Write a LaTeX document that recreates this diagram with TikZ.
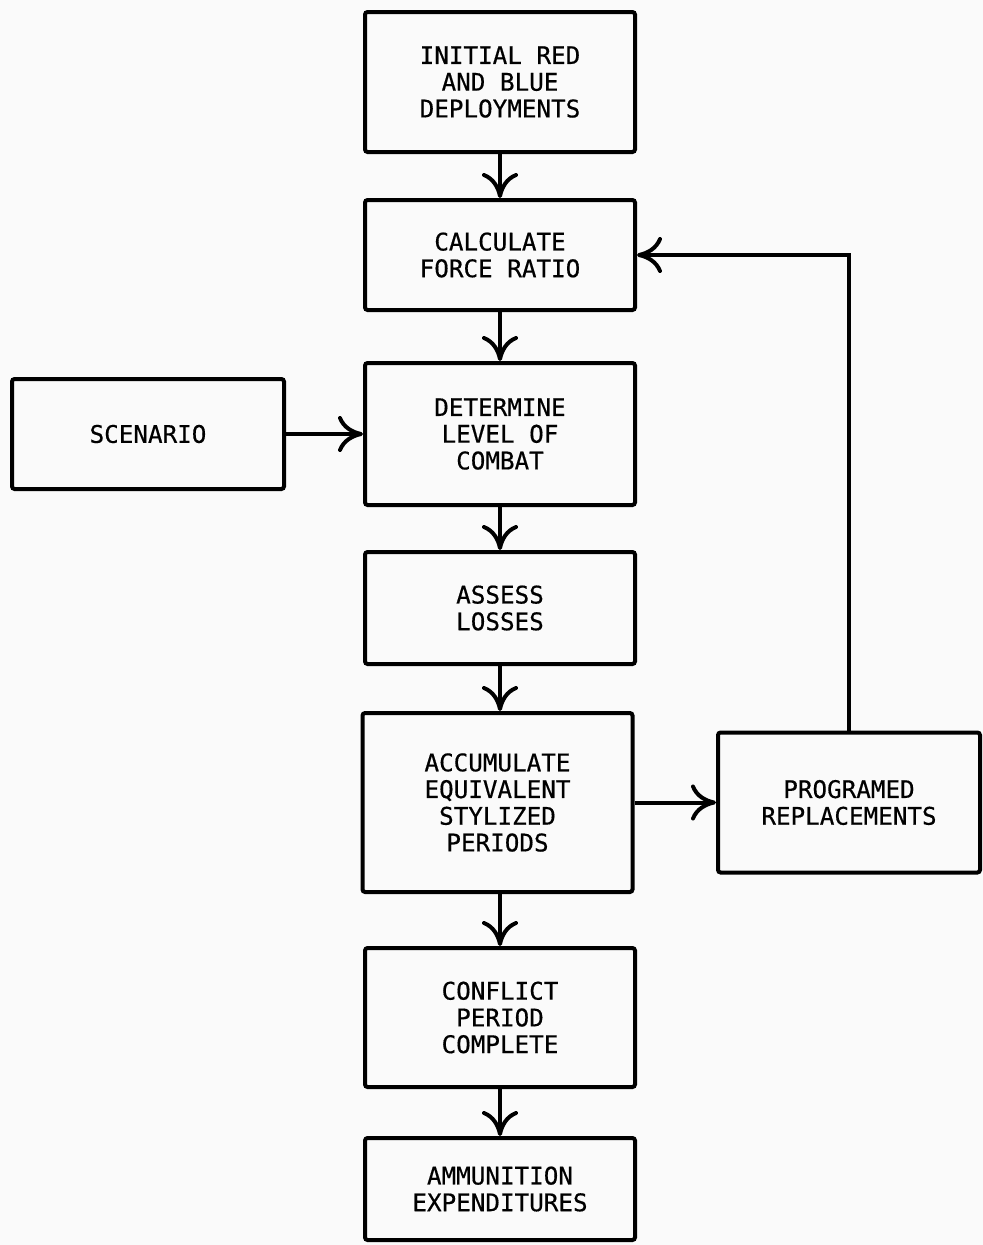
\documentclass[tikz,border=0pt]{standalone}
\usepackage{fontspec}
\newfontfamily\boxfont[FakeBold=0.5]{DejaVu Sans Mono}
\usetikzlibrary{arrows.meta}

\begin{document}
\begin{tikzpicture}[
        box/.style={draw, line width=0.08cm, rounded corners=1.5pt, align=center,
            minimum width=5.4cm, inner sep=0pt,
            font=\boxfont\fontsize{13.8}{15.2}\selectfont},
        flow/.style={line width=0.08cm,
            -{Computer Modern Rightarrow[length=0.5cm, width=0.72cm, line width=0.08cm]}}
    ]
    \fill[black!2] (0,0) rectangle (19.66,-24.9);
    \useasboundingbox (0,0) rectangle (19.66,-24.9);
    % main column
    \node[box, minimum height=2.8cm] (init) at (10,-1.64) {INITIAL RED\\AND BLUE\\DEPLOYMENTS};
    \node[box, minimum height=2.2cm] (calc) at (10,-5.1) {CALCULATE\\FORCE RATIO};
    \node[box, minimum height=2.84cm] (determ) at (10,-8.68) {DETERMINE\\LEVEL OF\\COMBAT};
    \node[box, minimum height=2.24cm] (assess) at (10,-12.16) {ASSESS\\LOSSES};
    \node[box, minimum height=3.58cm] (accum) at (9.95,-16.05) {ACCUMULATE\\EQUIVALENT\\STYLIZED\\PERIODS};
    \node[box, minimum height=2.78cm] (confl) at (10,-20.35) {CONFLICT\\PERIOD\\COMPLETE};
    \node[box, minimum height=2.04cm] (ammo) at (10,-23.78) {AMMUNITION\\EXPENDITURES};
    % side boxes
    \node[box, minimum width=5.44cm, minimum height=2.2cm] (scen) at (2.96,-8.68) {SCENARIO};
    \node[box, minimum width=5.24cm, minimum height=2.8cm] (prog) at (16.98,-16.05) {PROGRAMED\\REPLACEMENTS};
    % connectors
    \draw[flow] (init) -- (calc);
    \draw[flow] (calc) -- (determ);
    \draw[flow] (determ) -- (assess);
    \draw[flow] (assess.south) -- (assess.south |- accum.north);
    \draw[flow] (accum.south -| confl.north) -- (confl.north);
    \draw[flow] (confl) -- (ammo);
    \draw[flow] (scen) -- (determ);
    \draw[flow] (accum) -- (prog);
    \draw[flow] (prog.north) |- (calc.east);
\end{tikzpicture}
\end{document}
